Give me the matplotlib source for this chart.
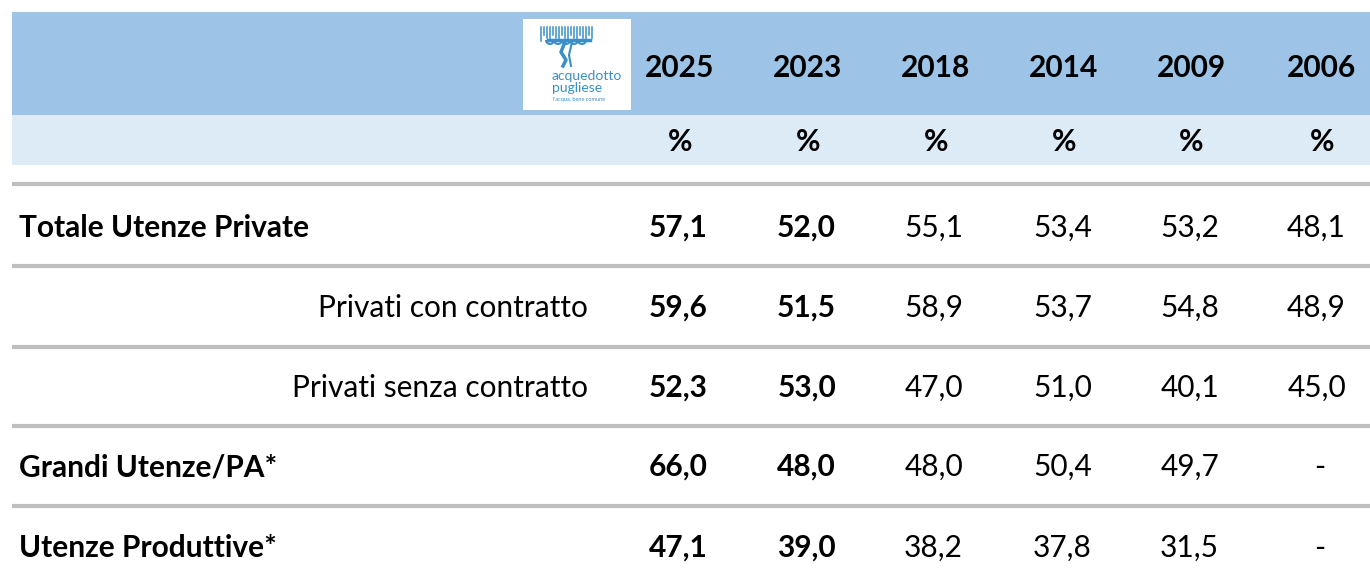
import matplotlib.pyplot as plt
from matplotlib.patches import Rectangle, Arc

years = ["2025", "2023", "2018", "2014", "2009", "2006"]
row_labels = ["Totale Utenze Private", "Privati con contratto",
              "Privati senza contratto", "Grandi Utenze/PA*", "Utenze Produttive*"]
row_is_main = [True, False, False, True, True]
values = [
    ["57,1", "52,0", "55,1", "53,4", "53,2", "48,1"],
    ["59,6", "51,5", "58,9", "53,7", "54,8", "48,9"],
    ["52,3", "53,0", "47,0", "51,0", "40,1", "45,0"],
    ["66,0", "48,0", "48,0", "50,4", "49,7", "-"],
    ["47,1", "39,0", "38,2", "37,8", "31,5", "-"],
]
bold_cols = [True, True, False, False, False, False]

W, H = 1370, 578
fig = plt.figure(figsize=(W / 100, H / 100), dpi=100)
ax = fig.add_axes([0, 0, 1, 1])
ax.set_xlim(0, W)
ax.set_ylim(H, 0)
ax.axis("off")
plt.rcParams["font.family"] = ["Lato", "DejaVu Sans"]

fs = 21.5
# header bands
ax.add_patch(Rectangle((12, 12), W - 12, 103, color="#9dc3e6", lw=0))
ax.add_patch(Rectangle((12, 115), W - 12, 50, color="#ddebf7", lw=0))

# logo
ax.add_patch(Rectangle((523, 19), 108, 91, color="white", lw=0))
blue = "#3a8fc7"
for x in range(541, 593, 3):
    ax.plot([x, x], [27, 34 + (x * 7) % 9], color=blue, lw=1.1)
for cx in range(550, 590, 8):
    ax.add_patch(Arc((cx, 40), 8, 8, theta1=0, theta2=180, color=blue, lw=1.5))
ax.plot([548, 590], [40, 40], color=blue, lw=2.5)
ax.plot([565, 561, 566, 563], [42, 52, 60, 66], color=blue, lw=2.5)
ax.plot([572, 569, 571], [42, 55, 66], color=blue, lw=1.5)
ax.text(552, 76, "acquedotto", fontsize=10, color=blue, va="center")
ax.text(552, 88, "pugliese", fontsize=10, color=blue, va="center")
ax.text(553, 99, "l'acqua, bene comune", fontsize=4, color=blue, va="center")

col_right = [708, 836, 963, 1092, 1219, 1346]
col_center = [680, 808, 936, 1064, 1191, 1322]
for c, yr in enumerate(years):
    ax.text(col_center[c], 68, yr, fontsize=fs, fontweight="bold", ha="center", va="center")
    ax.text(col_center[c], 142, "%", fontsize=fs, fontweight="bold", ha="center", va="center")

# separators
for y in [184, 266, 347, 426, 506]:
    ax.plot([12, W], [y, y], color="#bfbfbf", lw=3, solid_capstyle="butt")

row_y = [228, 308, 388, 467, 548]
for r, lab in enumerate(row_labels):
    y = row_y[r]
    if row_is_main[r]:
        ax.text(19, y, lab, fontsize=fs, fontweight="bold", ha="left", va="center")
    else:
        ax.text(588, y, lab, fontsize=fs, ha="right", va="center")
    for c, v in enumerate(values[r]):
        w = "bold" if bold_cols[c] else "normal"
        if v == "-":
            ax.text(1320, y, v, fontsize=fs, fontweight=w, ha="center", va="center")
        else:
            ax.text(col_right[c], y, v, fontsize=fs, fontweight=w, ha="right", va="center")

fig.savefig("out.png", dpi=100)
